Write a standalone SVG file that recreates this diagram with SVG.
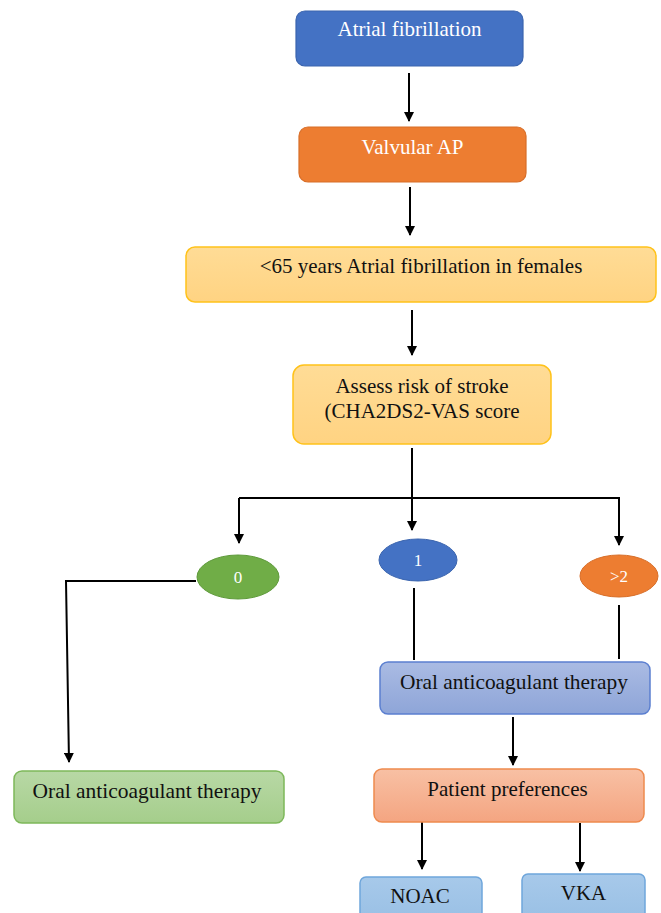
<svg xmlns="http://www.w3.org/2000/svg" width="661" height="913" viewBox="0 0 661 913">
<style>
.t{font-size:21px;text-anchor:middle;fill:#111}
.w{fill:#fff}
.s{font-size:17px}
.c{stroke:#000;stroke-width:2;fill:none}
.cm{stroke:#000;stroke-width:2;fill:none;marker-end:url(#ah)}
</style>
<defs>
<marker id="ah" viewBox="0 0 10 10" refX="9" refY="5" markerWidth="5" markerHeight="5" orient="auto" markerUnits="strokeWidth">
<path d="M0,0 L10,5 L0,10 z" fill="#000"/>
</marker>
<linearGradient id="gy" x1="0" y1="0" x2="0" y2="1"><stop offset="0" stop-color="#FFDC96"/><stop offset="1" stop-color="#FFD382"/></linearGradient>
<linearGradient id="gb" x1="0" y1="0" x2="0" y2="1"><stop offset="0" stop-color="#AABBE3"/><stop offset="1" stop-color="#8EA5D8"/></linearGradient>
<linearGradient id="gg" x1="0" y1="0" x2="0" y2="1"><stop offset="0" stop-color="#B8D8A5"/><stop offset="1" stop-color="#A5CE8B"/></linearGradient>
<linearGradient id="gs" x1="0" y1="0" x2="0" y2="1"><stop offset="0" stop-color="#F8C0A4"/><stop offset="1" stop-color="#F4A581"/></linearGradient>
<linearGradient id="gl" x1="0" y1="0" x2="0" y2="1"><stop offset="0" stop-color="#A7C9EA"/><stop offset="1" stop-color="#98BFE4"/></linearGradient>
</defs>
<g id="connectors">
<path class="cm" d="M409,73 V121"/>
<path class="cm" d="M410,187 V235"/>
<path class="cm" d="M412,310 V355"/>
<path class="cm" d="M412,448 V530"/>
<path class="cm" d="M239,498 H619 V545"/>
<path class="cm" d="M239,498 V543"/>
<path class="cm" d="M196,581 H66 L69,762"/>
<path class="c" d="M414,588 V660"/>
<path class="c" d="M619,605 V659"/>
<path class="cm" d="M513,717 V765"/>
<path class="cm" d="M422,822 V869"/>
<path class="cm" d="M580,823 V871"/>
</g>
<g id="nodes" font-family="'Liberation Serif', 'Times New Roman', 'DejaVu Serif', serif">
<g id="atrial-fibrillation">
<rect x="296" y="11" width="227" height="55" rx="9" fill="#4472C4" stroke="#3A64AE" stroke-width="1.2"/>
<text class="t w" x="409.5" y="36">Atrial fibrillation</text>
</g>
<g id="valvular-ap">
<rect x="299" y="127" width="227" height="55" rx="9" fill="#ED7D31" stroke="#D86E28" stroke-width="1.2"/>
<text class="t w" x="412.5" y="154">Valvular AP</text>
</g>
<g id="under65">
<rect x="186" y="247" width="470" height="55" rx="9" fill="url(#gy)" stroke="#FFC21A" stroke-width="1.5"/>
<text class="t" x="421" y="273">&lt;65 years Atrial fibrillation in females</text>
</g>
<g id="assess-risk">
<rect x="293" y="365" width="258" height="79" rx="11" fill="url(#gy)" stroke="#FFC21A" stroke-width="1.5"/>
<text class="t" x="422" y="393">Assess risk of stroke</text>
<text class="t" x="422" y="418">(CHA2DS2-VAS score</text>
</g>
<g id="score-0">
<ellipse cx="238" cy="577" rx="41" ry="22" fill="#70AD47" stroke="#5E9A3A" stroke-width="1"/>
<text class="t w s" x="238" y="583">0</text>
</g>
<g id="score-1">
<ellipse cx="418" cy="560" rx="39" ry="21" fill="#4472C4" stroke="#3A64AE" stroke-width="1"/>
<text class="t w s" x="418" y="566">1</text>
</g>
<g id="score-gt2">
<ellipse cx="619" cy="576" rx="39" ry="21" fill="#ED7D31" stroke="#D86E28" stroke-width="1"/>
<text class="t w s" x="619" y="582">&gt;2</text>
</g>
<g id="oac-left">
<rect x="14" y="771" width="270" height="52" rx="8" fill="url(#gg)" stroke="#7DB85A" stroke-width="1.5"/>
<text class="t" x="147" y="798" textLength="229" lengthAdjust="spacingAndGlyphs">Oral anticoagulant therapy</text>
</g>
<g id="oac-right">
<rect x="380" y="662" width="270" height="52" rx="8" fill="url(#gb)" stroke="#5B7FD0" stroke-width="1.5"/>
<text class="t" x="514" y="689" textLength="228" lengthAdjust="spacingAndGlyphs">Oral anticoagulant therapy</text>
</g>
<g id="patient-preferences">
<rect x="374" y="769" width="270" height="53" rx="8" fill="url(#gs)" stroke="#EE8A4E" stroke-width="1.5"/>
<text class="t" x="507.5" y="796">Patient preferences</text>
</g>
<g id="noac">
<rect x="360" y="877" width="122" height="48" rx="6" fill="url(#gl)" stroke="#6FA6DB" stroke-width="1.5"/>
<text class="t" x="420" y="903">NOAC</text>
</g>
<g id="vka">
<rect x="522" y="874" width="123" height="50" rx="6" fill="url(#gl)" stroke="#6FA6DB" stroke-width="1.5"/>
<text class="t" x="583.5" y="900">VKA</text>
</g>
</g>
</svg>
